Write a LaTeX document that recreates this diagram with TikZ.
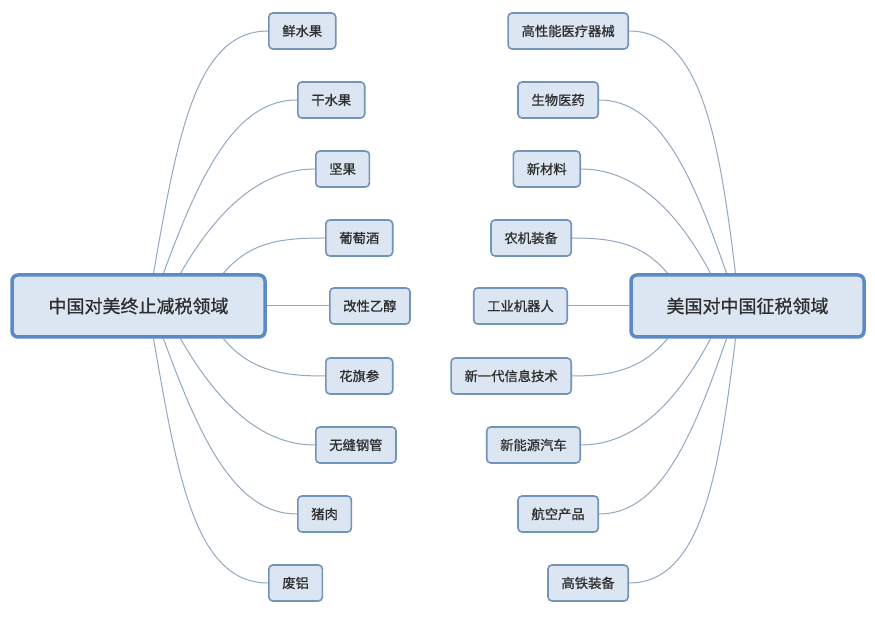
\documentclass[tikz,border=0pt]{standalone}
\usepackage{fontspec}
\newfontfamily\cjk[FakeBold=0.9]{Noto Sans CJK SC}
\usepackage{xcolor}
\usetikzlibrary{backgrounds}
\definecolor{rootline}{HTML}{5B8AC6}
\definecolor{leafline}{HTML}{7393BA}
\definecolor{boxfill}{HTML}{DCE6F2}
\definecolor{twig}{HTML}{93A9BF}
\definecolor{ink}{HTML}{2E2E2E}
\tikzset{
  root/.style={draw=rootline,line width=3.5pt,rounded corners=6pt,fill=boxfill,text=ink,
    font=\cjk\fontsize{18}{20}\selectfont,minimum height=62pt,inner sep=0pt},
  leaf/.style={draw=leafline,line width=1.6pt,rounded corners=4pt,fill=boxfill,text=ink,
    font=\cjk\fontsize{13.3}{15}\selectfont,minimum height=36pt,inner xsep=13.5pt,inner ysep=0pt},
  twig/.style={draw=twig,line width=1pt},
  far/.style={out looseness=1.3,in looseness=0.7}
}

\begin{document}
\begin{tikzpicture}[x=1pt,y=1pt]
 \useasboundingbox (0,0) rectangle (875,618);
 % roots
 \node[root,minimum width=253pt] (cn) at (138.5,312) {中国对美终止减税领域};
 \node[root,minimum width=233pt] (us) at (747.5,312) {美国对中国征税领域};
 % left leaves
 \node[leaf,anchor=west] (a1) at (268,587) {鲜水果};
 \node[leaf,anchor=west] (a2) at (297,518) {干水果};
 \node[leaf,anchor=west] (a3) at (315,449) {坚果};
 \node[leaf,anchor=west] (a4) at (325,380) {葡萄酒};
 \node[leaf,anchor=west] (a5) at (329,312) {改性乙醇};
 \node[leaf,anchor=west] (a6) at (325,242) {花旗参};
 \node[leaf,anchor=west] (a7) at (315,173) {无缝钢管};
 \node[leaf,anchor=west] (a8) at (297,104) {猪肉};
 \node[leaf,anchor=west] (a9) at (268,35) {废铝};
 % right leaves
 \node[leaf,anchor=east] (b1) at (629,587) {高性能医疗器械};
 \node[leaf,anchor=east] (b2) at (599,518) {生物医药};
 \node[leaf,anchor=east] (b3) at (581,449) {新材料};
 \node[leaf,anchor=east] (b4) at (572,380) {农机装备};
 \node[leaf,anchor=east] (b5) at (568,312) {工业机器人};
 \node[leaf,anchor=east] (b6) at (572,242) {新一代信息技术};
 \node[leaf,anchor=east] (b7) at (581,173) {新能源汽车};
 \node[leaf,anchor=east] (b8) at (599,104) {航空产品};
 \node[leaf,anchor=east] (b9) at (629,35) {高铁装备};
 \begin{scope}[on background layer]
  \fill[white] (0,0) rectangle (875,618);
  % left branches
  \draw[twig] ([xshift=15pt]cn.north) to[out=80,in=180,far] (a1.west);
  \draw[twig] ([xshift=25pt]cn.north) to[out=70,in=180,far] (a2.west);
  \draw[twig] ([xshift=42pt]cn.north) to[out=60,in=180,far] (a3.west);
  \draw[twig] ([xshift=85pt]cn.north) to[out=50,in=180] (a4.west);
  \draw[twig] (cn.east) -- (a5.west);
  \draw[twig] ([xshift=85pt]cn.south) to[out=-50,in=180] (a6.west);
  \draw[twig] ([xshift=42pt]cn.south) to[out=-60,in=180,far] (a7.west);
  \draw[twig] ([xshift=25pt]cn.south) to[out=-70,in=180,far] (a8.west);
  \draw[twig] ([xshift=15pt]cn.south) to[out=-80,in=180,far] (a9.west);
  % right branches
  \draw[twig] ([xshift=-12pt]us.north) to[out=97,in=0,far] (b1.east);
  \draw[twig] ([xshift=-21pt]us.north) to[out=109,in=0,far] (b2.east);
  \draw[twig] ([xshift=-37pt]us.north) to[out=118,in=0,far] (b3.east);
  \draw[twig] ([xshift=-80pt]us.north) to[out=130,in=0] (b4.east);
  \draw[twig] (us.west) -- (b5.east);
  \draw[twig] ([xshift=-80pt]us.south) to[out=-130,in=0] (b6.east);
  \draw[twig] ([xshift=-37pt]us.south) to[out=-118,in=0,far] (b7.east);
  \draw[twig] ([xshift=-21pt]us.south) to[out=-109,in=0,far] (b8.east);
  \draw[twig] ([xshift=-12pt]us.south) to[out=-97,in=0,far] (b9.east);
 \end{scope}
\end{tikzpicture}
\end{document}
